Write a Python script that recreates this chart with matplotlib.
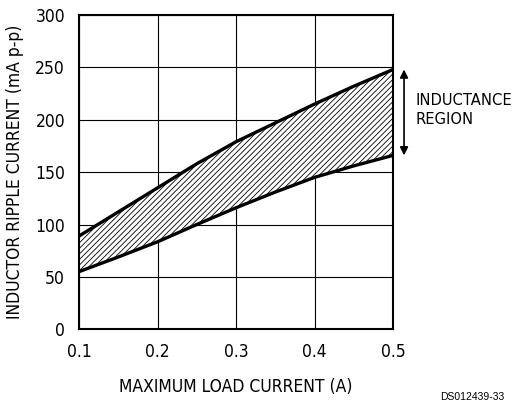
#!/usr/bin/env python3
"""Inductor ripple current vs maximum load current (inductance region)."""

import matplotlib
matplotlib.use('Agg')
import matplotlib.pyplot as plt
from matplotlib import font_manager

# Data
load_current = [0.1, 0.15, 0.2, 0.25, 0.3, 0.35, 0.4, 0.45, 0.5]
ripple_upper = [89, 112, 135, 158, 179, 197, 215, 232, 248]
ripple_lower = [55, 69, 83.5, 100, 116, 131, 145, 156, 166]

x_ticks = [0.1, 0.2, 0.3, 0.4, 0.5]
y_ticks = [0, 50, 100, 150, 200, 250, 300]

# condensed sans, close to the narrow drafting font of the original
fp = font_manager.FontProperties(family='DejaVu Sans', stretch='condensed', size=12.5)
fp_note = font_manager.FontProperties(family='DejaVu Sans', stretch='condensed', size=11.8)

plt.rcParams['hatch.linewidth'] = 0.6
plt.rcParams['hatch.color'] = 'black'

fig = plt.figure(figsize=(5.14, 4.09), dpi=100)
ax = fig.add_axes([0.1537, 0.1949, 0.611, 0.7684])

ax.fill_between(load_current, ripple_lower, ripple_upper,
	facecolor='white', edgecolor='black', hatch='//////', linewidth=0)
ax.plot(load_current, ripple_upper, color='black', linewidth=2.4, solid_capstyle='butt')
ax.plot(load_current, ripple_lower, color='black', linewidth=2.4, solid_capstyle='butt')

ax.set_xlim(0.1, 0.5)
ax.set_ylim(0, 300)
ax.set_xticks(x_ticks)
ax.set_yticks(y_ticks)
ax.set_xticklabels([f'{v:.1f}' for v in x_ticks], fontproperties=fp)
ax.set_yticklabels([str(v) for v in y_ticks], fontproperties=fp)
ax.tick_params(length=0, pad=10)
ax.grid(True, color='black', linewidth=0.8)
ax.set_axisbelow(True)
for s in ax.spines.values():
	s.set_linewidth(1.5)

ax.set_xlabel('MAXIMUM LOAD CURRENT (A)', fontproperties=fp, labelpad=12)
ax.set_ylabel('INDUCTOR RIPPLE CURRENT (mA p-p)', fontproperties=fp, labelpad=8)

# inductance region arrow + label
ax.annotate('', xy=(1.035, ripple_lower[-1]), xytext=(1.035, ripple_upper[-1]),
	xycoords=('axes fraction', 'data'), textcoords=('axes fraction', 'data'),
	arrowprops=dict(arrowstyle='<|-|>', color='black', lw=1.2,
		mutation_scale=12, shrinkA=0, shrinkB=0))
ax.text(1.07, 0.698, 'INDUCTANCE\nREGION', transform=ax.transAxes,
	fontproperties=fp_note, ha='left', va='center', linespacing=1.3)

fig.text(0.982, 0.03, 'DS012439-33', family=['Liberation Sans', 'DejaVu Sans'],
	fontsize=7.5, ha='right', va='center')

plt.savefig('out.png', dpi=100)
plt.close()
